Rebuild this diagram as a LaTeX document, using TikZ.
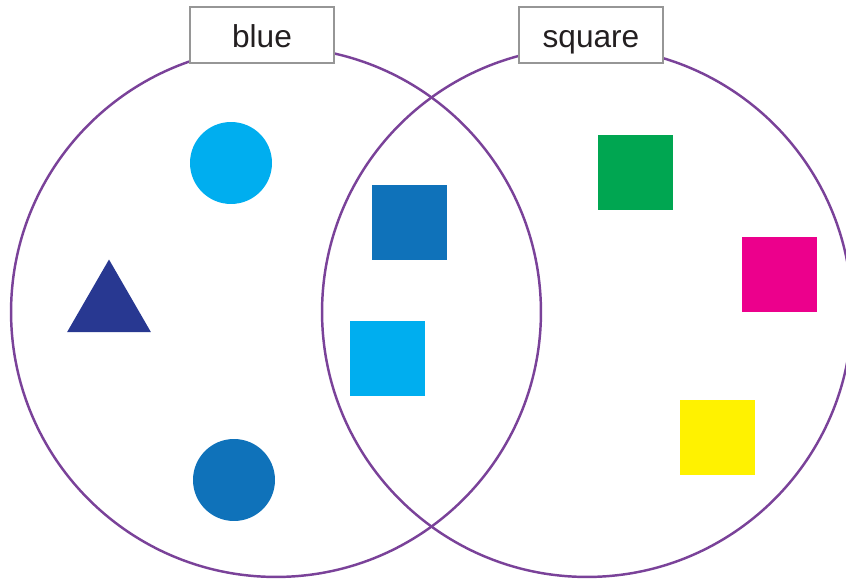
\documentclass[tikz,border=0pt]{standalone}
\usepackage{fontspec}
\setmainfont{Liberation Sans}
\usetikzlibrary{shapes.geometric}

\definecolor{vennline}{RGB}{122,66,153}
\definecolor{labelgray}{RGB}{150,150,150}
\definecolor{labeltext}{RGB}{35,31,32}
\definecolor{cyanblue}{RGB}{0,174,239}
\definecolor{midblue}{RGB}{15,114,186}
\definecolor{navyblue}{RGB}{40,56,145}
\definecolor{green}{RGB}{0,166,81}
\definecolor{magenta}{RGB}{236,0,140}
\definecolor{yellow}{RGB}{255,242,0}

\tikzset{
  set/.style={shape=circle,draw=vennline,line width=1.4pt,inner sep=0pt,minimum size=10.6cm},
  setlabel/.style={shape=rectangle,draw=labelgray,fill=white,line width=1.1pt,minimum width=2.88cm,minimum height=1.12cm,
    text=labeltext,text height=14.7pt,text depth=0pt,font=\fontsize{18}{20}\selectfont},
  sq/.style={shape=rectangle,inner sep=0pt,minimum size=1.5cm},
  dot/.style={shape=circle,inner sep=0pt,minimum size=1.64cm},
  tri/.style={shape=regular polygon,regular polygon sides=3,inner sep=0pt,minimum size=1.94cm}
}

\begin{document}
\begin{tikzpicture}[x=0.02cm,y=-0.02cm]
\path[use as bounding box,clip] (0,0) rectangle (846,580);

\node[set] (blueset) at (276,312) {};
\node[set] (squareset) at (587,312) {};

\node[setlabel] (bluelabel) at (262,35) {blue};
\node[setlabel] (squarelabel) at (591,35) {square};

\node[dot,fill=cyanblue] (c1) at (231,163) {};
\node[tri,fill=navyblue] (t1) at (109,308) {};
\node[dot,fill=midblue] (c2) at (234,480) {};

\node[sq,fill=midblue] (s1) at (409.5,222.5) {};
\node[sq,fill=cyanblue] (s2) at (387.5,358.5) {};

\node[sq,fill=green] (s3) at (635.5,172.5) {};
\node[sq,fill=magenta] (s4) at (779.5,274.5) {};
\node[sq,fill=yellow] (s5) at (717.5,437.5) {};
\end{tikzpicture}
\end{document}
